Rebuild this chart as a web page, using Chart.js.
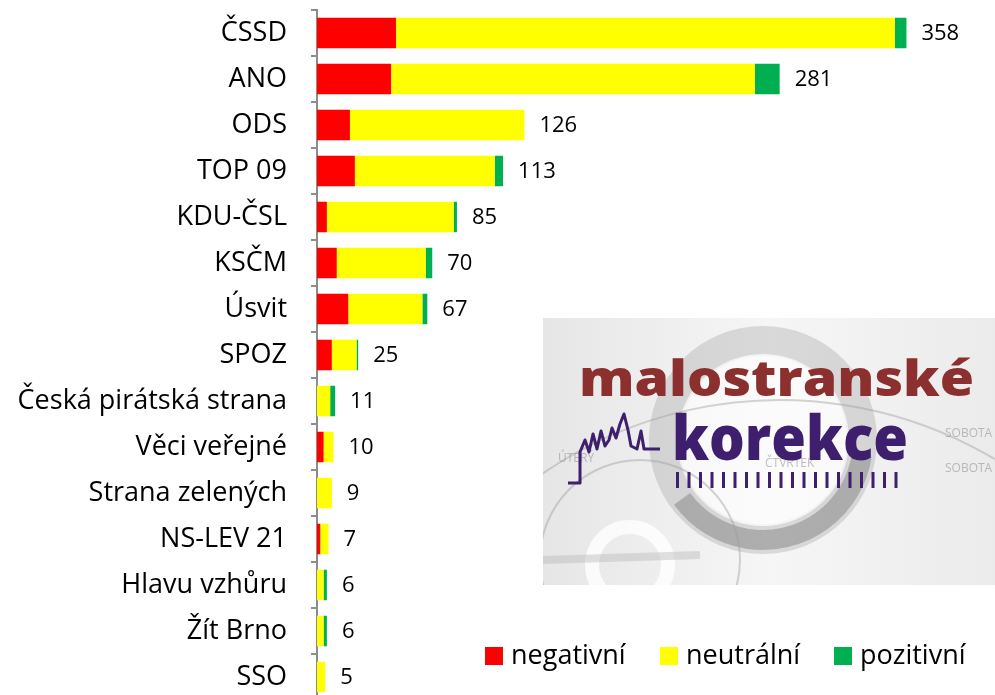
<!DOCTYPE html>
<html>
<head>
<meta charset="utf-8">
<script src="https://cdn.jsdelivr.net/npm/chart.js@4"></script>
<style>
  html, body { margin: 0; padding: 0; background: #fff; overflow: hidden; width: 995px; height: 695px; }
  #wrap { position: absolute; left: 0; top: 0; width: 995px; height: 720px; }
</style>
</head>
<body>
<div id="wrap"><canvas id="graf" width="995" height="720"></canvas></div>
<script>
// strany a pocty zminek
var strany = ['ČSSD', 'ANO', 'ODS', 'TOP 09', 'KDU-ČSL', 'KSČM', 'Úsvit', 'SPOZ',
  'Česká pirátská strana', 'Věci veřejné', 'Strana zelených', 'NS-LEV 21',
  'Hlavu vzhůru', 'Žít Brno', 'SSO'];
var negativni = [48, 45, 20, 23, 6, 12, 19, 9, 0, 4, 0, 2, 0, 0, 0];
var neutralni = [303, 221, 106, 85, 77, 54, 45, 15, 8, 6, 9, 5, 4, 4, 5];
var pozitivni = [7, 15, 0, 5, 2, 4, 3, 1, 3, 0, 0, 0, 2, 2, 0];
var legenda = ['negativní', 'neutrální', 'pozitivní'];
var barvy = ['#ff0000', '#ffff00', '#00b050'];

var PISMO = '"Open Sans", "Noto Sans", sans-serif';

// popisky se soucty na konci sloupcu
var soucty = {
  id: 'soucty',
  afterDatasetsDraw: function (chart) {
    var ctx = chart.ctx;
    var meta = chart.getDatasetMeta(2);
    ctx.save();
    ctx.font = '22px ' + PISMO;
    ctx.fillStyle = '#000';
    ctx.textAlign = 'left';
    ctx.textBaseline = 'middle';
    for (var i = 0; i < strany.length; i++) {
      var el = meta.data[i];
      var celkem = negativni[i] + neutralni[i] + pozitivni[i];
      ctx.fillText(celkem, el.x + 15, el.y + 1);
    }
    ctx.restore();
  }
};

// vlastni legenda vpravo dole
var legendaPlugin = {
  id: 'legendaPlugin',
  afterDraw: function (chart) {
    var ctx = chart.ctx;
    var pozice = [485, 660, 834];
    ctx.save();
    ctx.font = '27px ' + PISMO;
    ctx.textBaseline = 'middle';
    for (var i = 0; i < legenda.length; i++) {
      ctx.fillStyle = barvy[i];
      ctx.fillRect(pozice[i], 647, 18, 18);
      ctx.fillStyle = '#000';
      ctx.fillText(legenda[i], pozice[i] + 26, 656);
    }
    ctx.restore();
  }
};

// obrazek s logem poradu
function textNaSirku(ctx, txt, x, y, sirka, velikost, barva) {
  ctx.save();
  ctx.font = '800 ' + velikost + 'px ' + PISMO;
  var w = ctx.measureText(txt).width;
  ctx.translate(x, y);
  ctx.scale(sirka / w, 1);
  ctx.fillStyle = barva;
  ctx.textBaseline = 'alphabetic';
  ctx.fillText(txt, 0, 0);
  ctx.restore();
}

var logo = {
  id: 'logo',
  afterDraw: function (chart) {
    var ctx = chart.ctx;
    var x0 = 543, y0 = 318, w = 452, h = 267;
    ctx.save();
    ctx.beginPath();
    ctx.rect(x0, y0, w, h);
    ctx.clip();
    var g = ctx.createLinearGradient(x0, 0, x0 + w, 0);
    g.addColorStop(0, '#e6e6e6');
    g.addColorStop(0.5, '#f6f6f6');
    g.addColorStop(1, '#ebebeb');
    ctx.fillStyle = g;
    ctx.fillRect(x0, y0, w, h);

    // kruhy v pozadi
    ctx.strokeStyle = 'rgba(150,150,150,0.3)';
    ctx.lineWidth = 28;
    ctx.beginPath(); ctx.arc(763, 440, 100, 0, Math.PI * 2); ctx.stroke();
    ctx.strokeStyle = 'rgba(110,110,110,0.4)';
    ctx.lineWidth = 20;
    ctx.beginPath(); ctx.arc(763, 440, 100, 0.05 * Math.PI, 0.8 * Math.PI); ctx.stroke();
    ctx.fillStyle = 'rgba(255,255,255,0.55)';
    ctx.beginPath(); ctx.arc(763, 440, 84, 0, Math.PI * 2); ctx.fill();
    ctx.strokeStyle = 'rgba(255,255,255,0.8)';
    ctx.lineWidth = 14;
    ctx.beginPath(); ctx.arc(630, 565, 38, 0, Math.PI * 2); ctx.stroke();
    ctx.strokeStyle = 'rgba(160,160,160,0.45)';
    ctx.lineWidth = 2;
    ctx.beginPath(); ctx.arc(780, 820, 420, 1.05 * Math.PI, 1.75 * Math.PI); ctx.stroke();
    ctx.beginPath(); ctx.arc(640, 560, 100, 0, Math.PI * 2); ctx.stroke();
    ctx.strokeStyle = 'rgba(180,180,180,0.4)';
    ctx.lineWidth = 8;
    ctx.beginPath(); ctx.moveTo(543, 560); ctx.lineTo(700, 555); ctx.stroke();

    // dny v tydnu
    ctx.fillStyle = 'rgba(140,140,140,0.55)';
    ctx.font = '12px ' + PISMO;
    ctx.fillText('ÚTERÝ', 558, 462);
    ctx.fillText('ČTVRTEK', 765, 467);
    ctx.fillText('SOBOTA', 945, 437);
    ctx.fillText('SOBOTA', 945, 472);

    textNaSirku(ctx, 'malostranské', 579, 396, 395, 50, '#8c2f2f');
    textNaSirku(ctx, 'korekce', 672, 460, 236, 62, '#3d1f6e');

    // carky pod napisem
    ctx.fillStyle = '#3d1f6e';
    for (var i = 0; i < 20; i++) {
      ctx.fillRect(676 + i * 11.5, 472, 3, 16);
    }
    // silueta Hradu
    var body = [[568,483],[580,483],[580,452],[585,440],[589,452],[593,434],[597,449],[601,431],
      [605,446],[609,440],[612,428],[616,438],[620,424],[624,414],[628,430],[631,446],[637,449],
      [641,431],[644,449],[660,449]];
    ctx.strokeStyle = '#3d1f6e';
    ctx.lineWidth = 3;
    ctx.lineJoin = 'round';
    ctx.beginPath();
    ctx.moveTo(body[0][0], body[0][1]);
    for (var j = 1; j < body.length; j++) ctx.lineTo(body[j][0], body[j][1]);
    ctx.stroke();
    ctx.restore();
  }
};

var ctx = document.getElementById('graf').getContext('2d');
new Chart(ctx, {
  type: 'bar',
  data: {
    labels: strany,
    datasets: [
      { label: legenda[0], data: negativni, backgroundColor: barvy[0] },
      { label: legenda[1], data: neutralni, backgroundColor: barvy[1] },
      { label: legenda[2], data: pozitivni, backgroundColor: barvy[2] }
    ]
  },
  options: {
    indexAxis: 'y',
    responsive: false,
    animation: false,
    devicePixelRatio: 1,
    layout: { padding: { top: 10, bottom: 20, right: 19.4, left: 0 } },
    datasets: { bar: { categoryPercentage: 1, barPercentage: 0.66 } },
    plugins: { legend: { display: false }, tooltip: { enabled: false } },
    scales: {
      x: { stacked: true, display: false, min: 0, max: 400 },
      y: {
        stacked: true,
        afterFit: function (s) { s.width = 317; s.paddingTop = 0; s.paddingBottom = 0; },
        grid: { display: true, drawOnChartArea: false, offset: true, tickLength: 6, color: '#8c8c8c', lineWidth: 2 },
        border: { display: true, color: '#8c8c8c', width: 2 },
        ticks: { color: '#000', padding: 24, font: { family: PISMO, size: 27 } }
      }
    }
  },
  plugins: [soucty, legendaPlugin, logo]
});
</script>
</body>
</html>
